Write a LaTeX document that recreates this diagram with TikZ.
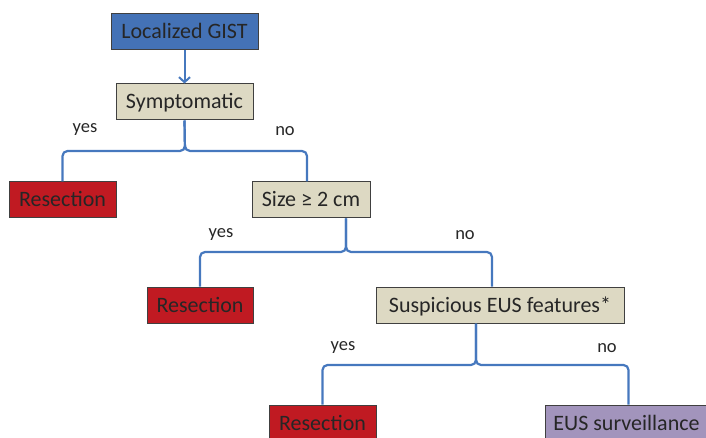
\documentclass[tikz,border=0pt]{standalone}
\usepackage{fontspec}
\setmainfont{Carlito}
\usetikzlibrary{arrows.meta,positioning}
\definecolor{gistblue}{RGB}{68,114,182}
\definecolor{linkblue}{RGB}{70,120,190}
\definecolor{resred}{RGB}{192,26,34}
\definecolor{checkbeige}{RGB}{221,217,195}
\definecolor{watchpurple}{RGB}{162,148,188}
\definecolor{boxedge}{RGB}{64,64,64}
\definecolor{inktext}{RGB}{38,38,38}
\tikzset{
  box/.style={draw=boxedge, line width=1pt, minimum height=36pt, inner sep=5pt,
    text height=17pt, text depth=3pt, text=inktext, font=\fontsize{22}{26}\selectfont},
  decision/.style={box, fill=checkbeige},
  resect/.style={box, fill=resred},
  fork/.style={draw=linkblue, line width=2.2pt, rounded corners=5pt},
  answer/.style={font=\fontsize{18.5}{22}\selectfont, text=inktext}
}
\begin{document}
\begin{tikzpicture}[x=1pt,y=1pt]
    \useasboundingbox (0,0) rectangle (706,-438);
    \node[box, fill=gistblue, minimum width=147pt] (gist) at (184.5,-32) {Localized GIST};
    \node[decision, minimum width=137pt] (symp) at (184.5,-102) {Symptomatic};
    \node[resect, minimum width=107pt] (res1) at (62.5,-200) {Resection};
    \node[decision, minimum width=118pt] (size) at (311,-200) {Size ≥ 2 cm};
    \node[resect, minimum width=106pt] (res2) at (200,-305) {Resection};
    \node[decision, minimum width=248pt] (susp) at (500,-305) {Suspicious EUS features*};
    \node[resect, minimum width=107pt] (res3) at (322.5,-423) {Resection};
    \node[box, fill=watchpurple, minimum width=163pt] (eus) at (626.5,-423) {EUS surveillance};

    \draw[linkblue, line width=2pt, -{Straight Barb[length=5pt,width=11pt]}] (gist) -- (symp);

    % symptomatic?
    \coordinate (f1) at (185,-151);
    \draw[fork] (symp.south) -- (f1) -| (res1.north);
    \draw[fork] (symp.south) -- (f1) -| ([xshift=-4pt]size.north);
    \node[answer] (yes1) at (85,-130) {yes};
    \node[answer] (no1) at (285,-131) {no};

    % size >= 2 cm?
    \coordinate (f2) at (346,-252);
    \draw[fork] (size.south -| f2) -- (f2) -| (res2.north);
    \draw[fork] (size.south -| f2) -- (f2) -| ([xshift=-8pt]susp.north);
    \node[answer] (yes2) at (221,-235) {yes};
    \node[answer] (no2) at (465,-235) {no};

    % suspicious EUS features?
    \coordinate (f3) at (476,-365);
    \draw[fork] (susp.south -| f3) -- (f3) -| (res3.north);
    \draw[fork] (susp.south -| f3) -- (f3) -| ([xshift=2pt]eus.north);
    \node[answer] (yes3) at (343,-348) {yes};
    \node[answer] (no3) at (607,-348) {no};
\end{tikzpicture}
\end{document}
